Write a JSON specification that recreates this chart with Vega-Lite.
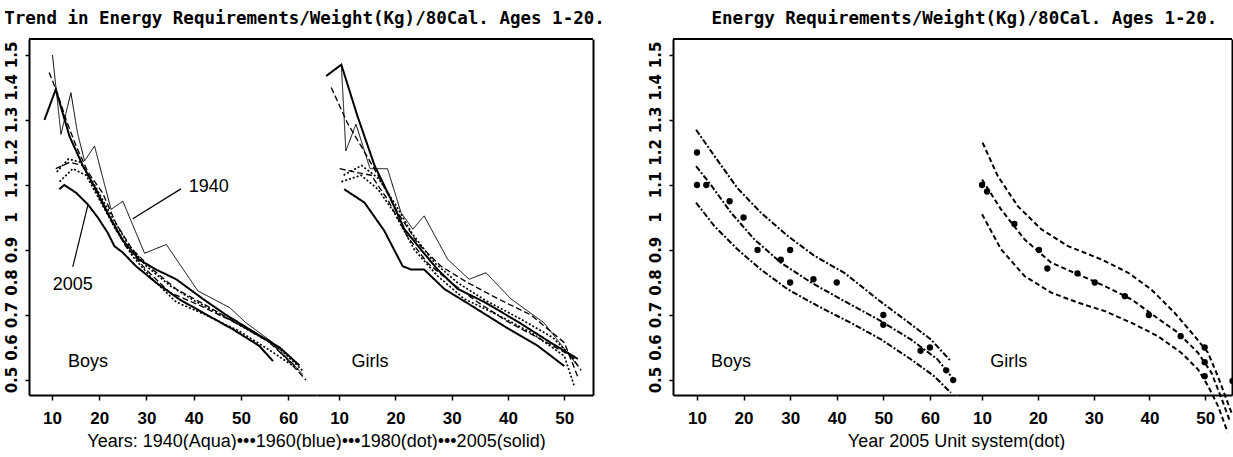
{
  "$schema": "https://vega.github.io/schema/vega-lite/v6.json",
  "background": "white",
  "padding": {"left": 4, "top": 9, "right": 0, "bottom": 0},
  "config": {
    "view": {"stroke": null},
    "axis": {
      "grid": false,
      "domainColor": "black",
      "domainWidth": 2,
      "tickColor": "black",
      "tickWidth": 1.5,
      "labelColor": "black",
      "titleColor": "black"
    },
    "axisX": {
      "labelFont": "Liberation Sans, Arial, sans-serif",
      "labelFontWeight": "bold",
      "labelFontSize": 17,
      "tickSize": 5,
      "labelPadding": 10,
      "labelOverlap": false,
      "titleFont": "Liberation Sans, Arial, sans-serif",
      "titleFontWeight": "normal",
      "titleFontSize": 18,
      "titlePadding": 6
    },
    "axisY": {
      "tickSize": 4,
      "labels": false
    },
    "title": {
      "font": "DejaVu Sans Mono, monospace",
      "fontWeight": "bold",
      "fontSize": 17.5,
      "color": "black",
      "anchor": "middle",
      "offset": 11
    }
  },
  "datasets": {
    "yticks": [
      {"v": 0.5, "label": "0.5"},
      {"v": 0.6, "label": "0.6"},
      {"v": 0.7, "label": "0.7"},
      {"v": 0.8, "label": "0.8"},
      {"v": 0.9, "label": "0.9"},
      {"v": 1.0, "label": "1"},
      {"v": 1.1, "label": "1.1"},
      {"v": 1.2, "label": "1.2"},
      {"v": 1.3, "label": "1.3"},
      {"v": 1.4, "label": "1.4"},
      {"v": 1.5, "label": "1.5"}
    ],
    "trend": [
      {"sex": "Boys", "year": "2005", "series": "b1", "w": 11.55, "v": 1.087},
      {"sex": "Boys", "year": "2005", "series": "b1", "w": 12.6, "v": 1.1},
      {"sex": "Boys", "year": "2005", "series": "b1", "w": 15.1, "v": 1.076},
      {"sex": "Boys", "year": "2005", "series": "b1", "w": 17.6, "v": 1.04},
      {"sex": "Boys", "year": "2005", "series": "b1", "w": 19.7, "v": 1.0},
      {"sex": "Boys", "year": "2005", "series": "b1", "w": 21.8, "v": 0.953},
      {"sex": "Boys", "year": "2005", "series": "b1", "w": 23.2, "v": 0.912},
      {"sex": "Boys", "year": "2005", "series": "b1", "w": 25.0, "v": 0.892},
      {"sex": "Boys", "year": "2005", "series": "b1", "w": 27.8, "v": 0.85},
      {"sex": "Boys", "year": "2005", "series": "b1", "w": 32.0, "v": 0.8},
      {"sex": "Boys", "year": "2005", "series": "b1", "w": 37.0, "v": 0.748},
      {"sex": "Boys", "year": "2005", "series": "b1", "w": 42.6, "v": 0.702},
      {"sex": "Boys", "year": "2005", "series": "b1", "w": 48.3, "v": 0.656},
      {"sex": "Boys", "year": "2005", "series": "b1", "w": 53.9, "v": 0.605},
      {"sex": "Boys", "year": "2005", "series": "b1", "w": 56.8, "v": 0.558},

      {"sex": "Boys", "year": "2005", "series": "b2", "w": 8.4, "v": 1.3},
      {"sex": "Boys", "year": "2005", "series": "b2", "w": 10.8, "v": 1.394},
      {"sex": "Boys", "year": "2005", "series": "b2", "w": 13.7, "v": 1.25},
      {"sex": "Boys", "year": "2005", "series": "b2", "w": 16.5, "v": 1.16},
      {"sex": "Boys", "year": "2005", "series": "b2", "w": 19.3, "v": 1.087},
      {"sex": "Boys", "year": "2005", "series": "b2", "w": 22.1, "v": 1.005},
      {"sex": "Boys", "year": "2005", "series": "b2", "w": 25.0, "v": 0.93},
      {"sex": "Boys", "year": "2005", "series": "b2", "w": 28.5, "v": 0.87},
      {"sex": "Boys", "year": "2005", "series": "b2", "w": 32.0, "v": 0.84},
      {"sex": "Boys", "year": "2005", "series": "b2", "w": 36.3, "v": 0.81},
      {"sex": "Boys", "year": "2005", "series": "b2", "w": 41.9, "v": 0.75},
      {"sex": "Boys", "year": "2005", "series": "b2", "w": 46.9, "v": 0.7},
      {"sex": "Boys", "year": "2005", "series": "b2", "w": 52.5, "v": 0.65},
      {"sex": "Boys", "year": "2005", "series": "b2", "w": 58.2, "v": 0.6},
      {"sex": "Boys", "year": "2005", "series": "b2", "w": 62.4, "v": 0.545},

      {"sex": "Boys", "year": "1940", "series": "b3", "w": 10.1, "v": 1.5},
      {"sex": "Boys", "year": "1940", "series": "b3", "w": 11.9, "v": 1.256},
      {"sex": "Boys", "year": "1940", "series": "b3", "w": 14.0, "v": 1.384},
      {"sex": "Boys", "year": "1940", "series": "b3", "w": 15.4, "v": 1.26},
      {"sex": "Boys", "year": "1940", "series": "b3", "w": 16.9, "v": 1.174},
      {"sex": "Boys", "year": "1940", "series": "b3", "w": 19.0, "v": 1.22},
      {"sex": "Boys", "year": "1940", "series": "b3", "w": 22.5, "v": 1.025},
      {"sex": "Boys", "year": "1940", "series": "b3", "w": 25.0, "v": 1.05},
      {"sex": "Boys", "year": "1940", "series": "b3", "w": 29.6, "v": 0.89},
      {"sex": "Boys", "year": "1940", "series": "b3", "w": 34.2, "v": 0.917},
      {"sex": "Boys", "year": "1940", "series": "b3", "w": 40.9, "v": 0.774},
      {"sex": "Boys", "year": "1940", "series": "b3", "w": 47.6, "v": 0.723},
      {"sex": "Boys", "year": "1940", "series": "b3", "w": 51.1, "v": 0.676},
      {"sex": "Boys", "year": "1940", "series": "b3", "w": 56.8, "v": 0.615},
      {"sex": "Boys", "year": "1940", "series": "b3", "w": 63.1, "v": 0.517},

      {"sex": "Boys", "year": "1960", "series": "b4", "w": 9.4, "v": 1.446},
      {"sex": "Boys", "year": "1960", "series": "b4", "w": 11.2, "v": 1.38},
      {"sex": "Boys", "year": "1960", "series": "b4", "w": 13.0, "v": 1.3},
      {"sex": "Boys", "year": "1960", "series": "b4", "w": 15.1, "v": 1.22},
      {"sex": "Boys", "year": "1960", "series": "b4", "w": 17.6, "v": 1.14},
      {"sex": "Boys", "year": "1960", "series": "b4", "w": 20.7, "v": 1.076},
      {"sex": "Boys", "year": "1960", "series": "b4", "w": 23.6, "v": 0.98},
      {"sex": "Boys", "year": "1960", "series": "b4", "w": 27.1, "v": 0.9},
      {"sex": "Boys", "year": "1960", "series": "b4", "w": 31.3, "v": 0.84},
      {"sex": "Boys", "year": "1960", "series": "b4", "w": 36.3, "v": 0.78},
      {"sex": "Boys", "year": "1960", "series": "b4", "w": 42.6, "v": 0.73},
      {"sex": "Boys", "year": "1960", "series": "b4", "w": 49.7, "v": 0.67},
      {"sex": "Boys", "year": "1960", "series": "b4", "w": 56.8, "v": 0.61},
      {"sex": "Boys", "year": "1960", "series": "b4", "w": 63.8, "v": 0.5},

      {"sex": "Boys", "year": "1960", "series": "b5", "w": 10.8, "v": 1.15},
      {"sex": "Boys", "year": "1960", "series": "b5", "w": 13.7, "v": 1.17},
      {"sex": "Boys", "year": "1960", "series": "b5", "w": 16.5, "v": 1.16},
      {"sex": "Boys", "year": "1960", "series": "b5", "w": 19.3, "v": 1.08},
      {"sex": "Boys", "year": "1960", "series": "b5", "w": 22.9, "v": 0.98},
      {"sex": "Boys", "year": "1960", "series": "b5", "w": 25.7, "v": 0.91},
      {"sex": "Boys", "year": "1960", "series": "b5", "w": 29.9, "v": 0.84},
      {"sex": "Boys", "year": "1960", "series": "b5", "w": 34.9, "v": 0.77},
      {"sex": "Boys", "year": "1960", "series": "b5", "w": 41.2, "v": 0.73},
      {"sex": "Boys", "year": "1960", "series": "b5", "w": 48.3, "v": 0.68},
      {"sex": "Boys", "year": "1960", "series": "b5", "w": 55.3, "v": 0.625},
      {"sex": "Boys", "year": "1960", "series": "b5", "w": 61.7, "v": 0.54},

      {"sex": "Boys", "year": "1980", "series": "b6", "w": 11.6, "v": 1.11},
      {"sex": "Boys", "year": "1980", "series": "b6", "w": 14.4, "v": 1.15},
      {"sex": "Boys", "year": "1980", "series": "b6", "w": 17.2, "v": 1.13},
      {"sex": "Boys", "year": "1980", "series": "b6", "w": 20.0, "v": 1.056},
      {"sex": "Boys", "year": "1980", "series": "b6", "w": 23.6, "v": 0.96},
      {"sex": "Boys", "year": "1980", "series": "b6", "w": 27.1, "v": 0.88},
      {"sex": "Boys", "year": "1980", "series": "b6", "w": 31.3, "v": 0.81},
      {"sex": "Boys", "year": "1980", "series": "b6", "w": 36.3, "v": 0.74},
      {"sex": "Boys", "year": "1980", "series": "b6", "w": 42.6, "v": 0.7},
      {"sex": "Boys", "year": "1980", "series": "b6", "w": 49.7, "v": 0.65},
      {"sex": "Boys", "year": "1980", "series": "b6", "w": 56.8, "v": 0.585},
      {"sex": "Boys", "year": "1980", "series": "b6", "w": 62.4, "v": 0.53},

      {"sex": "Boys", "year": "1980", "series": "b7", "w": 11.0, "v": 1.14},
      {"sex": "Boys", "year": "1980", "series": "b7", "w": 13.5, "v": 1.18},
      {"sex": "Boys", "year": "1980", "series": "b7", "w": 16.0, "v": 1.17},
      {"sex": "Boys", "year": "1980", "series": "b7", "w": 19.0, "v": 1.1},
      {"sex": "Boys", "year": "1980", "series": "b7", "w": 22.0, "v": 1.02},
      {"sex": "Boys", "year": "1980", "series": "b7", "w": 26.0, "v": 0.92},
      {"sex": "Boys", "year": "1980", "series": "b7", "w": 30.0, "v": 0.85},
      {"sex": "Boys", "year": "1980", "series": "b7", "w": 35.0, "v": 0.79},
      {"sex": "Boys", "year": "1980", "series": "b7", "w": 40.0, "v": 0.745},
      {"sex": "Boys", "year": "1980", "series": "b7", "w": 46.0, "v": 0.7},
      {"sex": "Boys", "year": "1980", "series": "b7", "w": 52.0, "v": 0.65},
      {"sex": "Boys", "year": "1980", "series": "b7", "w": 58.0, "v": 0.6},
      {"sex": "Boys", "year": "1980", "series": "b7", "w": 63.0, "v": 0.53},

      {"sex": "Girls", "year": "2005", "series": "g1", "w": 10.9, "v": 1.087},
      {"sex": "Girls", "year": "2005", "series": "g1", "w": 14.5, "v": 1.046},
      {"sex": "Girls", "year": "2005", "series": "g1", "w": 18.0, "v": 0.96},
      {"sex": "Girls", "year": "2005", "series": "g1", "w": 21.3, "v": 0.85},
      {"sex": "Girls", "year": "2005", "series": "g1", "w": 22.8, "v": 0.84},
      {"sex": "Girls", "year": "2005", "series": "g1", "w": 25.1, "v": 0.84},
      {"sex": "Girls", "year": "2005", "series": "g1", "w": 28.7, "v": 0.78},
      {"sex": "Girls", "year": "2005", "series": "g1", "w": 33.4, "v": 0.73},
      {"sex": "Girls", "year": "2005", "series": "g1", "w": 39.3, "v": 0.666},
      {"sex": "Girls", "year": "2005", "series": "g1", "w": 45.3, "v": 0.605},
      {"sex": "Girls", "year": "2005", "series": "g1", "w": 50.0, "v": 0.543},

      {"sex": "Girls", "year": "2005", "series": "g2", "w": 7.7, "v": 1.435},
      {"sex": "Girls", "year": "2005", "series": "g2", "w": 10.4, "v": 1.47},
      {"sex": "Girls", "year": "2005", "series": "g2", "w": 13.3, "v": 1.31},
      {"sex": "Girls", "year": "2005", "series": "g2", "w": 16.3, "v": 1.16},
      {"sex": "Girls", "year": "2005", "series": "g2", "w": 19.2, "v": 1.056},
      {"sex": "Girls", "year": "2005", "series": "g2", "w": 21.6, "v": 0.964},
      {"sex": "Girls", "year": "2005", "series": "g2", "w": 24.6, "v": 0.9},
      {"sex": "Girls", "year": "2005", "series": "g2", "w": 27.5, "v": 0.84},
      {"sex": "Girls", "year": "2005", "series": "g2", "w": 31.1, "v": 0.78},
      {"sex": "Girls", "year": "2005", "series": "g2", "w": 35.8, "v": 0.74},
      {"sex": "Girls", "year": "2005", "series": "g2", "w": 41.7, "v": 0.68},
      {"sex": "Girls", "year": "2005", "series": "g2", "w": 47.6, "v": 0.615},
      {"sex": "Girls", "year": "2005", "series": "g2", "w": 52.4, "v": 0.565},

      {"sex": "Girls", "year": "1940", "series": "g3", "w": 10.4, "v": 1.47},
      {"sex": "Girls", "year": "1940", "series": "g3", "w": 11.2, "v": 1.205},
      {"sex": "Girls", "year": "1940", "series": "g3", "w": 13.0, "v": 1.287},
      {"sex": "Girls", "year": "1940", "series": "g3", "w": 15.5, "v": 1.15},
      {"sex": "Girls", "year": "1940", "series": "g3", "w": 18.6, "v": 1.15},
      {"sex": "Girls", "year": "1940", "series": "g3", "w": 21.0, "v": 1.015},
      {"sex": "Girls", "year": "1940", "series": "g3", "w": 23.1, "v": 0.964},
      {"sex": "Girls", "year": "1940", "series": "g3", "w": 25.1, "v": 1.005},
      {"sex": "Girls", "year": "1940", "series": "g3", "w": 29.3, "v": 0.871},
      {"sex": "Girls", "year": "1940", "series": "g3", "w": 33.1, "v": 0.81},
      {"sex": "Girls", "year": "1940", "series": "g3", "w": 36.1, "v": 0.83},
      {"sex": "Girls", "year": "1940", "series": "g3", "w": 40.5, "v": 0.75},
      {"sex": "Girls", "year": "1940", "series": "g3", "w": 46.4, "v": 0.676},
      {"sex": "Girls", "year": "1940", "series": "g3", "w": 52.4, "v": 0.543},

      {"sex": "Girls", "year": "1960", "series": "g4", "w": 8.6, "v": 1.4},
      {"sex": "Girls", "year": "1960", "series": "g4", "w": 11.5, "v": 1.29},
      {"sex": "Girls", "year": "1960", "series": "g4", "w": 13.9, "v": 1.22},
      {"sex": "Girls", "year": "1960", "series": "g4", "w": 16.9, "v": 1.13},
      {"sex": "Girls", "year": "1960", "series": "g4", "w": 20.4, "v": 1.015},
      {"sex": "Girls", "year": "1960", "series": "g4", "w": 24.0, "v": 0.92},
      {"sex": "Girls", "year": "1960", "series": "g4", "w": 28.1, "v": 0.85},
      {"sex": "Girls", "year": "1960", "series": "g4", "w": 32.8, "v": 0.8},
      {"sex": "Girls", "year": "1960", "series": "g4", "w": 38.2, "v": 0.75},
      {"sex": "Girls", "year": "1960", "series": "g4", "w": 44.1, "v": 0.7},
      {"sex": "Girls", "year": "1960", "series": "g4", "w": 50.0, "v": 0.615},
      {"sex": "Girls", "year": "1960", "series": "g4", "w": 52.4, "v": 0.51},

      {"sex": "Girls", "year": "1960", "series": "g5", "w": 10.1, "v": 1.15},
      {"sex": "Girls", "year": "1960", "series": "g5", "w": 12.7, "v": 1.14},
      {"sex": "Girls", "year": "1960", "series": "g5", "w": 15.7, "v": 1.13},
      {"sex": "Girls", "year": "1960", "series": "g5", "w": 18.6, "v": 1.056},
      {"sex": "Girls", "year": "1960", "series": "g5", "w": 22.2, "v": 0.94},
      {"sex": "Girls", "year": "1960", "series": "g5", "w": 25.7, "v": 0.86},
      {"sex": "Girls", "year": "1960", "series": "g5", "w": 29.9, "v": 0.8},
      {"sex": "Girls", "year": "1960", "series": "g5", "w": 34.6, "v": 0.74},
      {"sex": "Girls", "year": "1960", "series": "g5", "w": 39.9, "v": 0.68},
      {"sex": "Girls", "year": "1960", "series": "g5", "w": 45.9, "v": 0.625},
      {"sex": "Girls", "year": "1960", "series": "g5", "w": 51.2, "v": 0.574},
      {"sex": "Girls", "year": "1960", "series": "g5", "w": 53.0, "v": 0.53},

      {"sex": "Girls", "year": "1980", "series": "g6", "w": 10.4, "v": 1.11},
      {"sex": "Girls", "year": "1980", "series": "g6", "w": 13.9, "v": 1.13},
      {"sex": "Girls", "year": "1980", "series": "g6", "w": 16.9, "v": 1.087},
      {"sex": "Girls", "year": "1980", "series": "g6", "w": 19.8, "v": 1.015},
      {"sex": "Girls", "year": "1980", "series": "g6", "w": 23.4, "v": 0.9},
      {"sex": "Girls", "year": "1980", "series": "g6", "w": 27.5, "v": 0.82},
      {"sex": "Girls", "year": "1980", "series": "g6", "w": 32.2, "v": 0.75},
      {"sex": "Girls", "year": "1980", "series": "g6", "w": 38.2, "v": 0.7},
      {"sex": "Girls", "year": "1980", "series": "g6", "w": 44.1, "v": 0.646},
      {"sex": "Girls", "year": "1980", "series": "g6", "w": 50.0, "v": 0.574},
      {"sex": "Girls", "year": "1980", "series": "g6", "w": 51.8, "v": 0.48},

      {"sex": "Girls", "year": "1980", "series": "g7", "w": 10.8, "v": 1.13},
      {"sex": "Girls", "year": "1980", "series": "g7", "w": 14.0, "v": 1.16},
      {"sex": "Girls", "year": "1980", "series": "g7", "w": 17.0, "v": 1.12},
      {"sex": "Girls", "year": "1980", "series": "g7", "w": 20.0, "v": 1.04},
      {"sex": "Girls", "year": "1980", "series": "g7", "w": 23.0, "v": 0.95},
      {"sex": "Girls", "year": "1980", "series": "g7", "w": 27.0, "v": 0.86},
      {"sex": "Girls", "year": "1980", "series": "g7", "w": 31.0, "v": 0.8},
      {"sex": "Girls", "year": "1980", "series": "g7", "w": 36.0, "v": 0.745},
      {"sex": "Girls", "year": "1980", "series": "g7", "w": 42.0, "v": 0.69},
      {"sex": "Girls", "year": "1980", "series": "g7", "w": 48.0, "v": 0.63},
      {"sex": "Girls", "year": "1980", "series": "g7", "w": 52.0, "v": 0.56}
    ],
    "fit": [
      {"sex": "Boys", "band": "upper", "w": 9.8, "v": 1.27},
      {"sex": "Boys", "band": "upper", "w": 13.7, "v": 1.19},
      {"sex": "Boys", "band": "upper", "w": 18.7, "v": 1.09},
      {"sex": "Boys", "band": "upper", "w": 23.7, "v": 1.015},
      {"sex": "Boys", "band": "upper", "w": 29.5, "v": 0.943},
      {"sex": "Boys", "band": "upper", "w": 35.2, "v": 0.882},
      {"sex": "Boys", "band": "upper", "w": 41.6, "v": 0.83},
      {"sex": "Boys", "band": "upper", "w": 48.8, "v": 0.748},
      {"sex": "Boys", "band": "upper", "w": 54.5, "v": 0.687},
      {"sex": "Boys", "band": "upper", "w": 60.2, "v": 0.625},
      {"sex": "Boys", "band": "upper", "w": 64.5, "v": 0.558},
      {"sex": "Boys", "band": "middle", "w": 9.8, "v": 1.158},
      {"sex": "Boys", "band": "middle", "w": 13.0, "v": 1.1},
      {"sex": "Boys", "band": "middle", "w": 17.3, "v": 1.015},
      {"sex": "Boys", "band": "middle", "w": 22.3, "v": 0.933},
      {"sex": "Boys", "band": "middle", "w": 28.0, "v": 0.861},
      {"sex": "Boys", "band": "middle", "w": 34.5, "v": 0.8},
      {"sex": "Boys", "band": "middle", "w": 41.6, "v": 0.743},
      {"sex": "Boys", "band": "middle", "w": 48.8, "v": 0.687},
      {"sex": "Boys", "band": "middle", "w": 55.9, "v": 0.625},
      {"sex": "Boys", "band": "middle", "w": 61.6, "v": 0.564},
      {"sex": "Boys", "band": "middle", "w": 65.2, "v": 0.5},
      {"sex": "Boys", "band": "lower", "w": 9.8, "v": 1.046},
      {"sex": "Boys", "band": "lower", "w": 13.7, "v": 0.974},
      {"sex": "Boys", "band": "lower", "w": 18.7, "v": 0.902},
      {"sex": "Boys", "band": "lower", "w": 23.7, "v": 0.84},
      {"sex": "Boys", "band": "lower", "w": 29.5, "v": 0.779},
      {"sex": "Boys", "band": "lower", "w": 35.9, "v": 0.728},
      {"sex": "Boys", "band": "lower", "w": 43.0, "v": 0.676},
      {"sex": "Boys", "band": "lower", "w": 49.5, "v": 0.625},
      {"sex": "Boys", "band": "lower", "w": 55.9, "v": 0.564},
      {"sex": "Boys", "band": "lower", "w": 60.9, "v": 0.512},
      {"sex": "Boys", "band": "lower", "w": 64.5, "v": 0.461},

      {"sex": "Girls", "band": "upper", "w": 10.1, "v": 1.23},
      {"sex": "Girls", "band": "upper", "w": 12.8, "v": 1.128},
      {"sex": "Girls", "band": "upper", "w": 16.4, "v": 1.035},
      {"sex": "Girls", "band": "upper", "w": 20.6, "v": 0.964},
      {"sex": "Girls", "band": "upper", "w": 25.4, "v": 0.912},
      {"sex": "Girls", "band": "upper", "w": 31.4, "v": 0.871},
      {"sex": "Girls", "band": "upper", "w": 36.2, "v": 0.83},
      {"sex": "Girls", "band": "upper", "w": 40.3, "v": 0.779},
      {"sex": "Girls", "band": "upper", "w": 44.5, "v": 0.707},
      {"sex": "Girls", "band": "upper", "w": 48.1, "v": 0.635},
      {"sex": "Girls", "band": "upper", "w": 50.5, "v": 0.584},
      {"sex": "Girls", "band": "upper", "w": 52.3, "v": 0.51},
      {"sex": "Girls", "band": "upper", "w": 54.7, "v": 0.4},
      {"sex": "Girls", "band": "middle", "w": 10.0, "v": 1.117},
      {"sex": "Girls", "band": "middle", "w": 13.4, "v": 1.025},
      {"sex": "Girls", "band": "middle", "w": 17.6, "v": 0.933},
      {"sex": "Girls", "band": "middle", "w": 22.4, "v": 0.861},
      {"sex": "Girls", "band": "middle", "w": 27.2, "v": 0.825},
      {"sex": "Girls", "band": "middle", "w": 32.0, "v": 0.789},
      {"sex": "Girls", "band": "middle", "w": 36.8, "v": 0.748},
      {"sex": "Girls", "band": "middle", "w": 40.9, "v": 0.697},
      {"sex": "Girls", "band": "middle", "w": 45.1, "v": 0.646},
      {"sex": "Girls", "band": "middle", "w": 48.7, "v": 0.584},
      {"sex": "Girls", "band": "middle", "w": 51.1, "v": 0.523},
      {"sex": "Girls", "band": "middle", "w": 53.0, "v": 0.44},
      {"sex": "Girls", "band": "middle", "w": 54.5, "v": 0.37},
      {"sex": "Girls", "band": "lower", "w": 10.0, "v": 1.01},
      {"sex": "Girls", "band": "lower", "w": 13.4, "v": 0.902},
      {"sex": "Girls", "band": "lower", "w": 17.6, "v": 0.82},
      {"sex": "Girls", "band": "lower", "w": 22.4, "v": 0.769},
      {"sex": "Girls", "band": "lower", "w": 27.2, "v": 0.738},
      {"sex": "Girls", "band": "lower", "w": 32.0, "v": 0.712},
      {"sex": "Girls", "band": "lower", "w": 36.8, "v": 0.676},
      {"sex": "Girls", "band": "lower", "w": 41.5, "v": 0.635},
      {"sex": "Girls", "band": "lower", "w": 45.7, "v": 0.584},
      {"sex": "Girls", "band": "lower", "w": 48.7, "v": 0.533},
      {"sex": "Girls", "band": "lower", "w": 50.5, "v": 0.482},
      {"sex": "Girls", "band": "lower", "w": 52.3, "v": 0.42},
      {"sex": "Girls", "band": "lower", "w": 54.0, "v": 0.34}
    ],
    "obs": [
      {"sex": "Boys", "w": 10.0, "v": 1.2},
      {"sex": "Boys", "w": 10.0, "v": 1.1},
      {"sex": "Boys", "w": 12.0, "v": 1.1},
      {"sex": "Boys", "w": 17.0, "v": 1.05},
      {"sex": "Boys", "w": 20.0, "v": 1.0},
      {"sex": "Boys", "w": 23.0, "v": 0.9},
      {"sex": "Boys", "w": 28.0, "v": 0.87},
      {"sex": "Boys", "w": 30.0, "v": 0.9},
      {"sex": "Boys", "w": 30.0, "v": 0.8},
      {"sex": "Boys", "w": 35.0, "v": 0.81},
      {"sex": "Boys", "w": 40.0, "v": 0.8},
      {"sex": "Boys", "w": 50.0, "v": 0.7},
      {"sex": "Boys", "w": 50.0, "v": 0.67},
      {"sex": "Boys", "w": 58.0, "v": 0.59},
      {"sex": "Boys", "w": 60.0, "v": 0.6},
      {"sex": "Boys", "w": 63.5, "v": 0.53},
      {"sex": "Boys", "w": 65.0, "v": 0.5},
      {"sex": "Girls", "w": 10.0, "v": 1.1},
      {"sex": "Girls", "w": 10.9, "v": 1.08},
      {"sex": "Girls", "w": 15.8, "v": 0.98},
      {"sex": "Girls", "w": 20.2, "v": 0.9},
      {"sex": "Girls", "w": 21.7, "v": 0.843},
      {"sex": "Girls", "w": 27.1, "v": 0.828},
      {"sex": "Girls", "w": 30.2, "v": 0.8},
      {"sex": "Girls", "w": 35.6, "v": 0.758},
      {"sex": "Girls", "w": 39.9, "v": 0.7},
      {"sex": "Girls", "w": 45.6, "v": 0.635},
      {"sex": "Girls", "w": 49.9, "v": 0.6},
      {"sex": "Girls", "w": 49.9, "v": 0.555},
      {"sex": "Girls", "w": 49.9, "v": 0.512},
      {"sex": "Girls", "w": 54.9, "v": 0.497}
    ],
    "labels": [
      {"panel": "left", "sex": "Boys", "text": "Boys", "w": 17.6, "v": 0.555},
      {"panel": "left", "sex": "Boys", "text": "1940", "w": 43.2, "v": 1.094},
      {"panel": "left", "sex": "Boys", "text": "2005", "w": 14.4, "v": 0.791},
      {"panel": "left", "sex": "Girls", "text": "Girls", "w": 15.5, "v": 0.555},
      {"panel": "right", "sex": "Boys", "text": "Boys", "w": 17.3, "v": 0.555},
      {"panel": "right", "sex": "Girls", "text": "Girls", "w": 14.8, "v": 0.555}
    ],
    "pointers": [
      {"label": "1940", "w": 37.3, "v": 1.088, "w2": 27.1, "v2": 0.996},
      {"label": "2005", "w": 14.4, "v": 0.848, "w2": 17.6, "v2": 1.038}
    ],
    "frame": [
      {"edge": "top", "v": 1.549}
    ]
  },
  "hconcat": [
    {
      "title": {"text": "Trend in Energy Requirements/Weight(Kg)/80Cal. Ages 1-20.", "dx": 5},
      "hconcat": [
        {
          "width": 287,
          "height": 356,
          "layer": [
            {
              "data": {"name": "trend"},
              "transform": [{"filter": "datum.sex === 'Boys'"}],
              "mark": {"type": "line", "color": "black"},
              "encoding": {
                "x": {"field": "w", "type": "quantitative", "scale": {"domain": [5.13, 65.9], "nice": false, "zero": false},
                      "axis": {"values": [10, 20, 30, 40, 50, 60], "labelOverlap": false, "title": "Years: 1940(Aqua)•••1960(blue)•••1980(dot)•••2005(solid)", "titleX": 287, "titleAlign": "center"}},
                "y": {"field": "v", "type": "quantitative", "scale": {"domain": [0.454, 1.549], "nice": false, "zero": false},
                      "axis": {"values": [0.5, 0.6, 0.7, 0.8, 0.9, 1, 1.1, 1.2, 1.3, 1.4, 1.5], "labels": false, "title": null}},
                "detail": {"field": "series"},
                "strokeDash": {"field": "year", "type": "nominal", "scale": {"domain": ["1940", "1960", "1980", "2005"], "range": [[1, 0], [6, 3], [2, 2], [1, 0]]}, "legend": null},
                "strokeWidth": {"field": "year", "type": "ordinal", "scale": {"domain": ["1940", "1960", "1980", "2005"], "range": [1, 2, 2.5, 3]}, "legend": null}
              }
            },
            {
              "data": {"name": "yticks"},
              "mark": {"type": "text", "angle": 270, "align": "center", "baseline": "bottom", "dy": -9, "font": "DejaVu Sans, sans-serif", "fontWeight": "bold", "fontSize": 15, "color": "black"},
              "encoding": {
                "x": {"datum": 5.13},
                "y": {"field": "v", "type": "quantitative"},
                "text": {"field": "label"}
              }
            },
            {
              "data": {"name": "frame"},
              "mark": {"type": "rule", "color": "black", "strokeWidth": 2},
              "encoding": {"y": {"field": "v", "type": "quantitative"}}
            },
            {
              "data": {"name": "pointers"},
              "mark": {"type": "rule", "color": "black", "strokeWidth": 1.2},
              "encoding": {
                "x": {"field": "w", "type": "quantitative"},
                "y": {"field": "v", "type": "quantitative"},
                "x2": {"field": "w2"},
                "y2": {"field": "v2"}
              }
            },
            {
              "data": {"name": "labels"},
              "transform": [{"filter": "datum.panel === 'left' && datum.sex === 'Boys'"}],
              "mark": {"type": "text", "font": "Liberation Sans, Arial, sans-serif", "fontSize": 18, "color": "black", "align": "center", "baseline": "middle"},
              "encoding": {
                "x": {"field": "w", "type": "quantitative"},
                "y": {"field": "v", "type": "quantitative"},
                "text": {"field": "text"}
              }
            }
          ]
        },
        {
          "width": 277,
          "height": 356,
          "layer": [
            {
              "data": {"name": "trend"},
              "transform": [{"filter": "datum.sex === 'Girls'"}],
              "mark": {"type": "line", "color": "black"},
              "encoding": {
                "x": {"field": "w", "type": "quantitative", "scale": {"domain": [5.9, 55.1], "nice": false, "zero": false},
                      "axis": {"values": [10, 20, 30, 40, 50], "labelOverlap": false, "title": null}},
                "y": {"field": "v", "type": "quantitative", "scale": {"domain": [0.454, 1.549], "nice": false, "zero": false},
                      "axis": {"orient": "right", "labels": false, "ticks": false, "title": null}},
                "detail": {"field": "series"},
                "strokeDash": {"field": "year", "type": "nominal", "scale": {"domain": ["1940", "1960", "1980", "2005"], "range": [[1, 0], [6, 3], [2, 2], [1, 0]]}, "legend": null},
                "strokeWidth": {"field": "year", "type": "ordinal", "scale": {"domain": ["1940", "1960", "1980", "2005"], "range": [1, 2, 2.5, 3]}, "legend": null}
              }
            },
            {
              "data": {"name": "frame"},
              "mark": {"type": "rule", "color": "black", "strokeWidth": 2},
              "encoding": {"y": {"field": "v", "type": "quantitative"}}
            },
            {
              "data": {"name": "labels"},
              "transform": [{"filter": "datum.panel === 'left' && datum.sex === 'Girls'"}],
              "mark": {"type": "text", "font": "Liberation Sans, Arial, sans-serif", "fontSize": 18, "color": "black", "align": "center", "baseline": "middle"},
              "encoding": {
                "x": {"field": "w", "type": "quantitative"},
                "y": {"field": "v", "type": "quantitative"},
                "text": {"field": "text"}
              }
            }
          ]
        }
      ],
      "spacing": 0,
      "bounds": "flush"
    },
    {
      "title": {"text": "Energy Requirements/Weight(Kg)/80Cal. Ages 1-20.", "dx": 22},
      "hconcat": [
        {
          "width": 283,
          "height": 356,
          "layer": [
            {
              "data": {"name": "fit"},
              "transform": [{"filter": "datum.sex === 'Boys'"}],
              "mark": {"type": "line", "color": "black", "strokeWidth": 2, "strokeDash": [6, 2, 2, 2], "clip": false},
              "encoding": {
                "x": {"field": "w", "type": "quantitative", "scale": {"domain": [4.85, 65.6], "nice": false, "zero": false},
                      "axis": {"values": [10, 20, 30, 40, 50, 60], "labelOverlap": false, "title": "Year 2005 Unit system(dot)", "titleX": 283, "titleAlign": "center"}},
                "y": {"field": "v", "type": "quantitative", "scale": {"domain": [0.454, 1.549], "nice": false, "zero": false},
                      "axis": {"values": [0.5, 0.6, 0.7, 0.8, 0.9, 1, 1.1, 1.2, 1.3, 1.4, 1.5], "labels": false, "title": null}},
                "detail": {"field": "band"}
              }
            },
            {
              "data": {"name": "yticks"},
              "mark": {"type": "text", "angle": 270, "align": "center", "baseline": "bottom", "dy": -9, "font": "DejaVu Sans, sans-serif", "fontWeight": "bold", "fontSize": 15, "color": "black"},
              "encoding": {
                "x": {"datum": 4.85},
                "y": {"field": "v", "type": "quantitative"},
                "text": {"field": "label"}
              }
            },
            {
              "data": {"name": "obs"},
              "transform": [{"filter": "datum.sex === 'Boys'"}],
              "mark": {"type": "point", "filled": true, "shape": "circle", "color": "black", "size": 40, "opacity": 1, "clip": false},
              "encoding": {
                "x": {"field": "w", "type": "quantitative"},
                "y": {"field": "v", "type": "quantitative"}
              }
            },
            {
              "data": {"name": "frame"},
              "mark": {"type": "rule", "color": "black", "strokeWidth": 2},
              "encoding": {"y": {"field": "v", "type": "quantitative"}}
            },
            {
              "data": {"name": "labels"},
              "transform": [{"filter": "datum.panel === 'right' && datum.sex === 'Boys'"}],
              "mark": {"type": "text", "font": "Liberation Sans, Arial, sans-serif", "fontSize": 18, "color": "black", "align": "center", "baseline": "middle"},
              "encoding": {
                "x": {"field": "w", "type": "quantitative"},
                "y": {"field": "v", "type": "quantitative"},
                "text": {"field": "text"}
              }
            }
          ]
        },
        {
          "width": 276,
          "height": 356,
          "layer": [
            {
              "data": {"name": "fit"},
              "transform": [{"filter": "datum.sex === 'Girls'"}],
              "mark": {"type": "line", "color": "black", "strokeWidth": 2, "strokeDash": [5, 3], "clip": false},
              "encoding": {
                "x": {"field": "w", "type": "quantitative", "scale": {"domain": [5.33, 54.8], "nice": false, "zero": false},
                      "axis": {"values": [10, 20, 30, 40, 50], "labelOverlap": false, "title": null}},
                "y": {"field": "v", "type": "quantitative", "scale": {"domain": [0.454, 1.549], "nice": false, "zero": false},
                      "axis": {"orient": "right", "labels": false, "ticks": false, "title": null}},
                "detail": {"field": "band"}
              }
            },
            {
              "data": {"name": "obs"},
              "transform": [{"filter": "datum.sex === 'Girls'"}],
              "mark": {"type": "point", "filled": true, "shape": "circle", "color": "black", "size": 40, "opacity": 1, "clip": false},
              "encoding": {
                "x": {"field": "w", "type": "quantitative"},
                "y": {"field": "v", "type": "quantitative"}
              }
            },
            {
              "data": {"name": "frame"},
              "mark": {"type": "rule", "color": "black", "strokeWidth": 2},
              "encoding": {"y": {"field": "v", "type": "quantitative"}}
            },
            {
              "data": {"name": "labels"},
              "transform": [{"filter": "datum.panel === 'right' && datum.sex === 'Girls'"}],
              "mark": {"type": "text", "font": "Liberation Sans, Arial, sans-serif", "fontSize": 18, "color": "black", "align": "center", "baseline": "middle"},
              "encoding": {
                "x": {"field": "w", "type": "quantitative"},
                "y": {"field": "v", "type": "quantitative"},
                "text": {"field": "text"}
              }
            }
          ]
        }
      ],
      "spacing": 0,
      "bounds": "flush"
    }
  ],
  "spacing": 43
}
